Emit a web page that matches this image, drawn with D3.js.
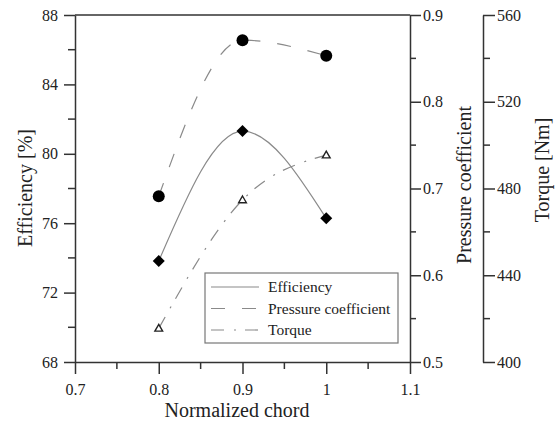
<!DOCTYPE html>
<html><head><meta charset="utf-8">
<script src="https://cdn.jsdelivr.net/npm/d3@7"></script>
<style>body{margin:0;background:#fff}svg{display:block}text{font-family:"Liberation Serif","DejaVu Serif",serif;fill:#222}</style>
</head><body>
<svg id="c" width="559" height="423"></svg>
<script>
const chord = [0.8, 0.9, 1.0];
const efficiency = [73.82, 81.31, 76.28];
const pressure = [0.691, 0.871, 0.853];
const torque = [415.5, 474.7, 495.4];
const xTicks = [0.7, 0.8, 0.9, 1, 1.1];
const effTicks = [68, 72, 76, 80, 84, 88];
const presTicks = [0.5, 0.6, 0.7, 0.8, 0.9];
const torqTicks = [400, 440, 480, 520, 560];
const legendNames = ["Efficiency", "Pressure coefficient", "Torque"];

const FONT = '"Liberation Serif","DejaVu Serif",serif';
const svg = d3.select("#c");
const L = 75, R = 410, T = 15, B = 362, TX = 483;
const x = d3.scaleLinear().domain([0.7, 1.1]).range([L, R]);
const yE = d3.scaleLinear().domain([68, 88]).range([B, T]);
const yP = d3.scaleLinear().domain([0.5, 0.9]).range([B, T]);
const yT = d3.scaleLinear().domain([400, 560]).range([B, T]);
const axisCol = "#333", lineCol = "#8a8a8a";

function styleAxis(g){
  g.attr("font-family", null).attr("font-size", null);
  g.selectAll("path.domain").attr("stroke", axisCol).attr("stroke-width", 1.5);
  g.selectAll(".tick line").attr("stroke", axisCol).attr("stroke-width", 1.5);
  g.selectAll(".tick text").style("font-family", FONT).style("font-size", "16px").attr("fill", "#222");
}
function minor(g, scale, vals, orient, len){
  vals.forEach(v => {
    const p = scale(v);
    let ln;
    if (orient === "bottom") ln = g.append("line").attr("x1", p).attr("x2", p).attr("y1", 0).attr("y2", len);
    else if (orient === "left") ln = g.append("line").attr("y1", p).attr("y2", p).attr("x1", 0).attr("x2", -len);
    else ln = g.append("line").attr("y1", p).attr("y2", p).attr("x1", 0).attr("x2", len);
    ln.attr("stroke", axisCol).attr("stroke-width", 1.5);
  });
}

svg.append("line").attr("x1", L).attr("x2", R).attr("y1", T).attr("y2", T).attr("stroke", axisCol).attr("stroke-width", 1.5);

const gx = svg.append("g").attr("transform", `translate(0,${B})`)
  .call(d3.axisBottom(x).tickValues(xTicks).tickSize(12).tickPadding(10).tickSizeOuter(0).tickFormat(d => d === 1 ? "1" : d3.format(".1f")(d)));
styleAxis(gx);
minor(gx, x, [0.75, 0.85, 0.95, 1.05], "bottom", 7);

const gl = svg.append("g").attr("transform", `translate(${L},0)`)
  .call(d3.axisLeft(yE).tickValues(effTicks).tickSize(11).tickPadding(6).tickSizeOuter(0));
styleAxis(gl);
minor(gl, yE, [70, 74, 78, 82, 86], "left", 7);

const gr = svg.append("g").attr("transform", `translate(${R},0)`)
  .call(d3.axisRight(yP).tickValues(presTicks).tickSize(11).tickPadding(2).tickSizeOuter(0).tickFormat(d3.format(".1f")));
styleAxis(gr);
minor(gr, yP, [0.55, 0.65, 0.75, 0.85], "right", 6);

const gt = svg.append("g").attr("transform", `translate(${TX},0)`)
  .call(d3.axisRight(yT).tickValues(torqTicks).tickSize(12).tickPadding(2).tickSizeOuter(0));
styleAxis(gt);
minor(gt, yT, [420, 460, 500, 540], "right", 7);

svg.append("text").attr("x", 237).attr("y", 417).attr("text-anchor", "middle").style("font-size", "20px").text("Normalized chord");
svg.append("text").attr("transform", "translate(32,188) rotate(-90)").attr("text-anchor", "middle").style("font-size", "20px").text("Efficiency [%]");
svg.append("text").attr("transform", "translate(471,185) rotate(-90)").attr("text-anchor", "middle").style("font-size", "20px").text("Pressure coefficient");
svg.append("text").attr("transform", "translate(549,170) rotate(-90)").attr("text-anchor", "middle").style("font-size", "20px").text("Torque [Nm]");

const dashes = [null, "14,17", "13,10,2,9"];
const series = [
  {vals: efficiency, y: yE},
  {vals: pressure, y: yP},
  {vals: torque, y: yT}
];
series.forEach((s, i) => {
  const line = d3.line().x((d, j) => x(chord[j])).y(d => s.y(d)).curve(d3.curveMonotoneX);
  svg.append("path").attr("d", line(s.vals)).attr("fill", "none").attr("stroke", lineCol)
    .attr("stroke-width", 1.2).attr("stroke-dasharray", dashes[i]);
});

svg.selectAll("path.dia").data(efficiency).enter().append("path")
  .attr("d", d3.symbol(d3.symbolSquare, 72)())
  .attr("transform", (d, j) => `translate(${x(chord[j])},${yE(d)}) rotate(45)`)
  .attr("fill", "#000");
svg.selectAll("circle.pc").data(pressure).enter().append("circle")
  .attr("cx", (d, j) => x(chord[j])).attr("cy", d => yP(d)).attr("r", 6).attr("fill", "#000");
svg.selectAll("path.tri").data(torque).enter().append("path")
  .attr("d", d3.symbol(d3.symbolTriangle, 26)())
  .attr("transform", (d, j) => `translate(${x(chord[j])},${yT(d) + 0.5})`)
  .attr("fill", "#fff").attr("stroke", "#222").attr("stroke-width", 1.4);

const lg = svg.append("g");
lg.append("rect").attr("x", 205).attr("y", 273).attr("width", 193).attr("height", 70)
  .attr("fill", "#fff").attr("stroke", "#777").attr("stroke-width", 1.2);
legendNames.forEach((n, i) => {
  const yy = 287 + i * 21.5;
  lg.append("line").attr("x1", 211).attr("x2", 259).attr("y1", yy).attr("y2", yy)
    .attr("stroke", lineCol).attr("stroke-width", 1.2).attr("stroke-dasharray", dashes[i]);
  lg.append("text").attr("x", 268).attr("y", yy + 5).style("font-size", "15.5px").text(n);
});
</script>
</body></html>
